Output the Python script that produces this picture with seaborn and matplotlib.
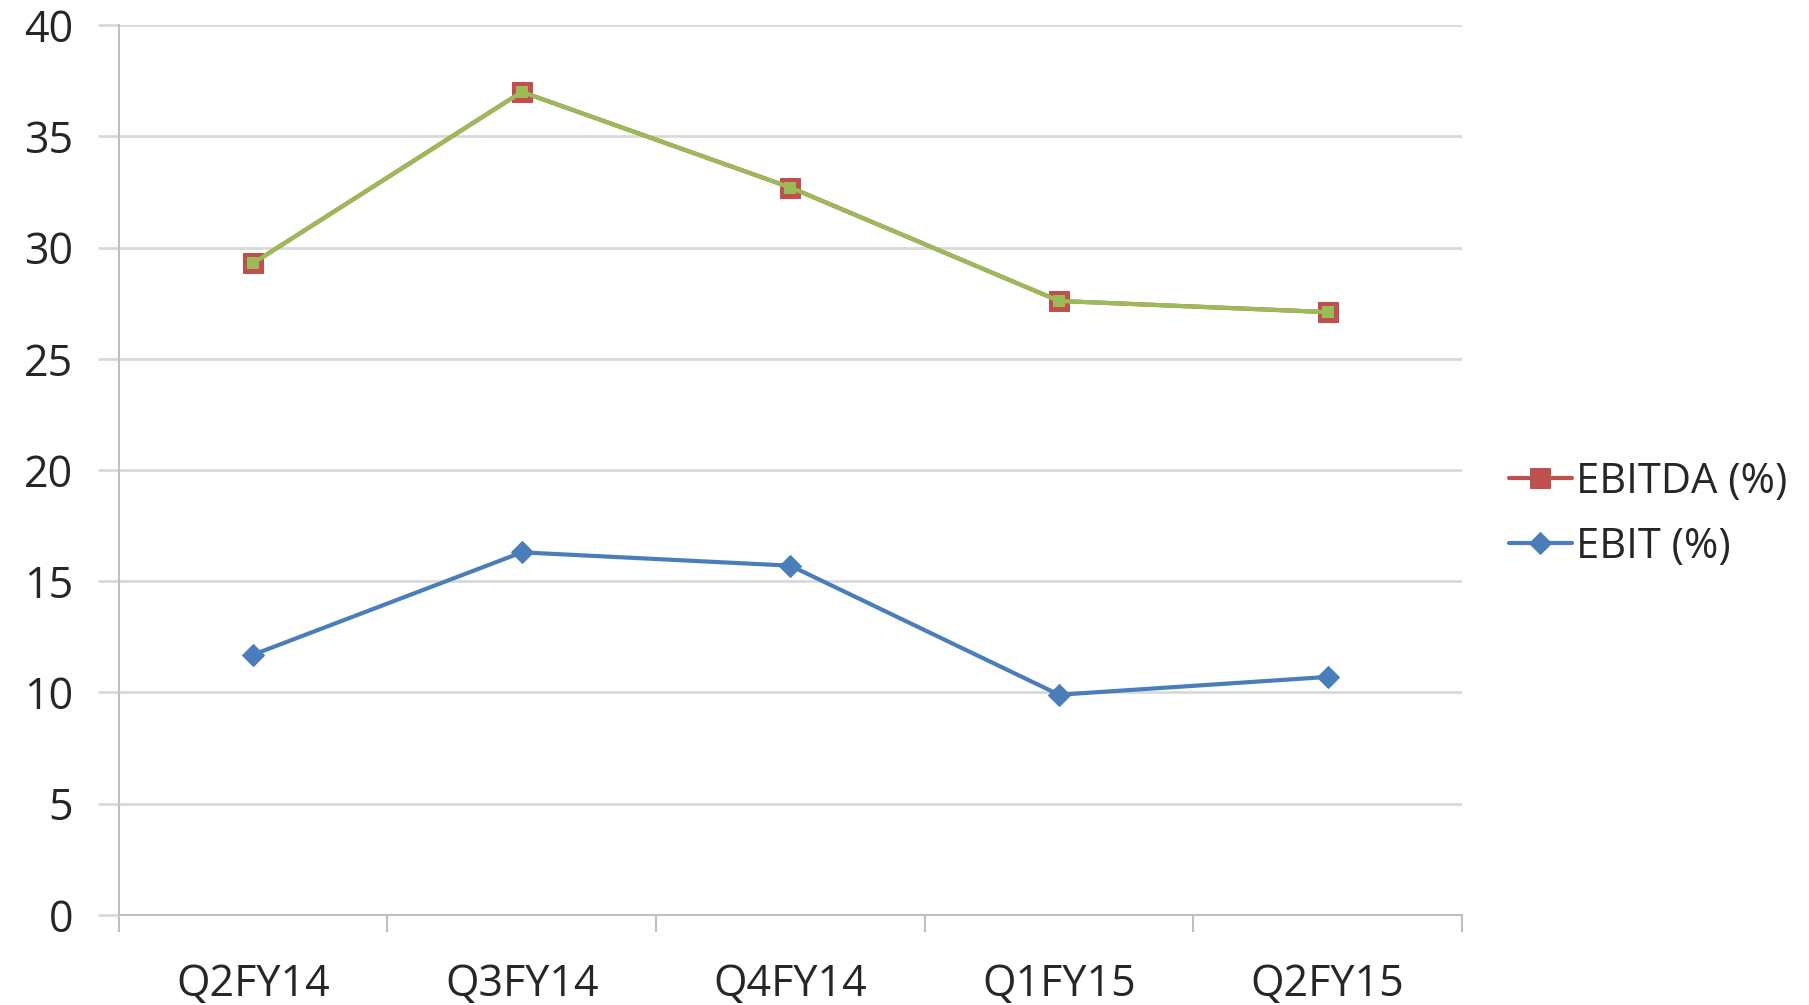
import matplotlib
matplotlib.use("Agg")
import matplotlib.pyplot as plt
from matplotlib.ticker import FixedLocator
import seaborn as sns
import pandas as pd

# values
quarters = ["Q2FY14", "Q3FY14", "Q4FY14", "Q1FY15", "Q2FY15"]
ebitda = [29.3, 37.0, 32.7, 27.6, 27.1]
ebit = [11.7, 16.3, 15.7, 9.9, 10.7]

sns.set_style("white")
plt.rcParams['font.family'] = ['Open Sans', 'DejaVu Sans']

df = pd.DataFrame({"quarter": quarters, "EBITDA (%)": ebitda, "EBIT (%)": ebit})

fig = plt.figure(figsize=(18.09, 10.05), dpi=100)
ax = fig.add_axes([0.0657, 0.0896, 0.7425, 0.8854])

# EBITDA - red line with squares, green overlay as in the original
sns.lineplot(data=df, x="quarter", y="EBITDA (%)", ax=ax, color="#C0504D", lw=3,
             marker="s", markersize=15, markeredgecolor="#C0504D", label="EBITDA (%)")
sns.lineplot(data=df, x="quarter", y="EBITDA (%)", ax=ax, color="#9BBB59", lw=3,
             marker="s", markersize=9, markeredgewidth=0, label="_nolegend_")
sns.lineplot(data=df, x="quarter", y="EBIT (%)", ax=ax, color="#4A7EBB", lw=3,
             marker="D", markersize=11, markeredgecolor="#4A7EBB", label="EBIT (%)")

ax.set_xlim(-0.5, len(quarters) - 0.5)
ax.set_ylim(0, 40)
ax.set_yticks(range(0, 41, 5))
ax.yaxis.grid(True, color="#D9D9D9", lw=2)
ax.set_xlabel("")
ax.set_ylabel("")

ax.xaxis.set_minor_locator(FixedLocator([i - 0.5 for i in range(len(quarters) + 1)]))
ax.tick_params(axis="x", which="major", bottom=True, length=0, pad=34, labelsize=31, labelcolor="#262626")
ax.tick_params(axis="x", which="minor", bottom=True, length=12, width=1.5, color="#BFBFBF", direction="out")
ax.tick_params(axis="y", left=True, length=15, width=2, color="#D9D9D9", pad=18, labelsize=31,
               labelcolor="#262626", direction="out")

for s in ["top", "right"]:
    ax.spines[s].set_visible(False)
for s in ["left", "bottom"]:
    ax.spines[s].set_color("#BFBFBF")
    ax.spines[s].set_linewidth(1.5)

leg = ax.legend(loc="center left", bbox_to_anchor=(1.035, 0.45), frameon=False, borderaxespad=0,
                borderpad=0, fontsize=30, handlelength=1.5, handletextpad=0.1, labelspacing=0.55)
for t in leg.get_texts():
    t.set_color("#262626")

fig.savefig("out.png", dpi=100)
